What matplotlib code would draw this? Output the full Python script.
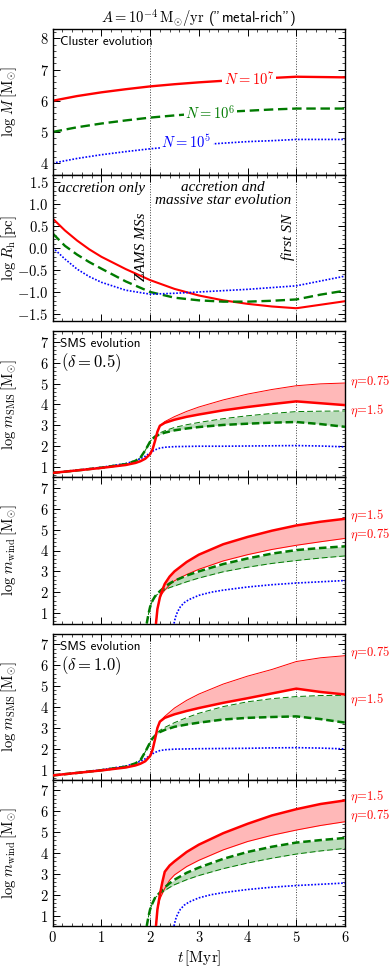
import numpy as np
import matplotlib
matplotlib.use('Agg')
import matplotlib.pyplot as plt
from matplotlib.ticker import MultipleLocator, AutoMinorLocator, FuncFormatter

plt.rcParams['mathtext.fontset'] = 'cm'
plt.rcParams['font.family'] = 'serif'
plt.rcParams['font.serif'] = ['cmr10', 'DejaVu Serif']
plt.rcParams['axes.formatter.use_mathtext'] = True

RED = '#ff0000'
GREEN = '#007a00'
BLUE = '#0000ff'
RED_FILL = '#ffb8b8'
GREEN_FILL = '#bcdcbc'

# ---- cluster mass (log M) ----
t_cl = [0, 0.5, 1.0, 1.5, 2.0, 2.5, 3.0, 3.5, 4.0, 4.5, 5.0, 5.5, 6.0]
logM_1e7 = [6.00, 6.15, 6.27, 6.37, 6.46, 6.53, 6.59, 6.64, 6.69, 6.73, 6.77, 6.76, 6.75]
logM_1e6 = [5.00, 5.15, 5.27, 5.37, 5.46, 5.53, 5.59, 5.64, 5.68, 5.72, 5.75, 5.75, 5.75]
logM_1e5 = [4.00, 4.15, 4.27, 4.37, 4.46, 4.53, 4.59, 4.64, 4.69, 4.72, 4.76, 4.76, 4.76]

# ---- half-mass radius (log Rh) ----
t_rh = [0, 0.25, 0.5, 0.75, 1.0, 1.5, 2.0, 2.5, 3.0, 3.5, 4.0, 4.5, 5.0, 5.5, 6.0]
logRh_1e7 = [0.67, 0.40, 0.17, -0.03, -0.20, -0.48, -0.73, -0.93, -1.08, -1.19, -1.27, -1.33, -1.37, -1.29, -1.21]
logRh_1e6 = [0.33, 0.05, -0.15, -0.32, -0.47, -0.76, -1.00, -1.13, -1.19, -1.22, -1.22, -1.20, -1.17, -1.06, -0.97]
logRh_1e5 = [0.01, -0.25, -0.48, -0.65, -0.78, -0.96, -1.05, -1.03, -1.00, -0.97, -0.94, -0.90, -0.86, -0.75, -0.64]

# ---- SMS mass ----
t_sms = [0, 0.5, 1.0, 1.5, 1.7, 1.8, 1.9, 2.0, 2.05, 2.1, 2.15, 2.2, 2.3, 2.5, 2.75, 3.0, 3.5, 4.0, 4.5, 5.0, 5.5, 6.0]
# delta = 0.5
sms05_1e7_eta15 = [0.72, 0.84, 0.96, 1.10, 1.20, 1.28, 1.40, 1.62, 1.85, 2.25, 2.70, 2.98, 3.12, 3.27, 3.41, 3.52, 3.72, 3.88, 4.02, 4.15, 4.06, 3.97]
sms05_1e7_eta075 = [0.72, 0.84, 0.96, 1.10, 1.20, 1.28, 1.40, 1.62, 1.85, 2.25, 2.70, 2.98, 3.18, 3.42, 3.67, 3.88, 4.22, 4.50, 4.72, 4.90, 4.99, 5.03]
sms05_1e6_eta15 = [0.72, 0.84, 0.97, 1.14, 1.30, 1.45, 1.80, 2.22, 2.36, 2.45, 2.52, 2.57, 2.65, 2.76, 2.85, 2.92, 3.02, 3.08, 3.13, 3.16, 3.06, 2.93]
sms05_1e6_eta075 = [0.72, 0.84, 0.97, 1.14, 1.30, 1.45, 1.80, 2.22, 2.38, 2.50, 2.58, 2.64, 2.74, 2.90, 3.03, 3.14, 3.32, 3.46, 3.57, 3.66, 3.68, 3.69]
sms05_1e5 = [0.72, 0.85, 0.99, 1.17, 1.30, 1.40, 1.52, 1.68, 1.76, 1.82, 1.87, 1.91, 1.95, 1.98, 1.99, 2.00, 2.00, 2.01, 2.02, 2.03, 2.01, 1.97]
# delta = 1.0
sms10_1e7_eta15 = [0.72, 0.84, 0.96, 1.10, 1.20, 1.28, 1.40, 1.65, 1.95, 2.45, 3.00, 3.30, 3.48, 3.65, 3.81, 3.95, 4.20, 4.42, 4.65, 4.88, 4.72, 4.60]
sms10_1e7_eta075 = [0.72, 0.84, 0.96, 1.10, 1.20, 1.28, 1.40, 1.65, 1.95, 2.45, 3.00, 3.30, 3.55, 3.95, 4.32, 4.62, 5.10, 5.48, 5.80, 6.18, 6.36, 6.46]
sms10_1e6_eta15 = [0.72, 0.84, 0.97, 1.14, 1.30, 1.45, 1.85, 2.30, 2.50, 2.62, 2.72, 2.80, 2.90, 3.05, 3.16, 3.25, 3.40, 3.48, 3.52, 3.55, 3.42, 3.25]
sms10_1e6_eta075 = [0.72, 0.84, 0.97, 1.14, 1.30, 1.45, 1.85, 2.30, 2.50, 2.62, 2.76, 2.88, 3.02, 3.25, 3.49, 3.70, 4.02, 4.25, 4.40, 4.50, 4.55, 4.56]
sms10_1e5 = [0.72, 0.85, 0.99, 1.17, 1.30, 1.40, 1.52, 1.68, 1.76, 1.82, 1.87, 1.91, 1.95, 1.98, 1.99, 2.00, 2.01, 2.02, 2.04, 2.05, 2.03, 1.99]

# ---- wind mass ----
t_w_1e7 = [2.12, 2.15, 2.2, 2.25, 2.3, 2.4, 2.5, 2.75, 3.0, 3.5, 4.0, 4.5, 5.0, 5.5, 6.0]
t_w_1e6 = [1.93, 1.97, 2.0, 2.05, 2.1, 2.2, 2.3, 2.4, 2.5, 2.75, 3.0, 3.5, 4.0, 4.5, 5.0, 5.5, 6.0]
t_w_1e5 = [2.49, 2.52, 2.56, 2.62, 2.7, 2.8, 3.0, 3.25, 3.5, 4.0, 4.5, 5.0, 5.5, 6.0]
# delta = 0.5
w05_1e7_eta15 = [0.5, 1.2, 1.75, 2.1, 2.4, 2.75, 3.0, 3.45, 3.8, 4.3, 4.65, 4.95, 5.2, 5.38, 5.52]
w05_1e7_eta075 = [0.5, 1.2, 1.75, 1.95, 2.1, 2.35, 2.55, 2.85, 3.1, 3.5, 3.8, 4.05, 4.25, 4.42, 4.58]
w05_1e6_eta15 = [0.5, 1.0, 1.3, 1.6, 1.8, 2.05, 2.25, 2.42, 2.55, 2.8, 3.0, 3.35, 3.62, 3.85, 4.02, 4.12, 4.2]
w05_1e6_eta075 = [0.5, 1.0, 1.3, 1.6, 1.8, 2.0, 2.12, 2.22, 2.3, 2.5, 2.68, 2.98, 3.2, 3.38, 3.52, 3.64, 3.74]
w05_1e5 = [0.5, 0.8, 1.05, 1.3, 1.5, 1.65, 1.85, 2.0, 2.1, 2.25, 2.36, 2.44, 2.5, 2.56]
# delta = 1.0
w10_1e7_eta15 = [0.5, 1.3, 2.0, 2.6, 3.1, 3.4, 3.6, 4.05, 4.4, 4.95, 5.4, 5.8, 6.1, 6.35, 6.52]
w10_1e7_eta075 = [0.5, 1.3, 1.8, 2.05, 2.3, 2.7, 2.95, 3.35, 3.65, 4.15, 4.55, 4.85, 5.1, 5.32, 5.5]
w10_1e6_eta15 = [0.5, 1.0, 1.3, 1.6, 1.85, 2.1, 2.35, 2.55, 2.72, 3.05, 3.3, 3.72, 4.05, 4.3, 4.5, 4.62, 4.72]
w10_1e6_eta075 = [0.5, 1.0, 1.3, 1.6, 1.85, 2.05, 2.2, 2.35, 2.48, 2.72, 2.92, 3.25, 3.52, 3.75, 3.95, 4.1, 4.22]
w10_1e5 = [0.5, 0.8, 1.05, 1.3, 1.5, 1.65, 1.85, 2.0, 2.1, 2.25, 2.36, 2.44, 2.5, 2.56]

t_marks = [2, 5]

fig = plt.figure(figsize=(3.9, 9.76), dpi=100)
W, H = 390.0, 976.0
left_px, width_px, h_px = 52.7, 292.3, 146.0
tops = [29, 175, 331.5, 477.5, 634, 780]
axs = []
for top in tops:
    axs.append(fig.add_axes([left_px / W, 1 - (top + h_px) / H, width_px / W, h_px / H]))

int_fmt = FuncFormatter(lambda v, p: r'$%d$' % round(v))
dec_fmt = FuncFormatter(lambda v, p: r'$%.1f$' % v)

for i, ax in enumerate(axs):
    ax.set_xlim(0, 6)
    ax.xaxis.set_major_locator(MultipleLocator(1))
    ax.xaxis.set_minor_locator(AutoMinorLocator(5))
    ax.yaxis.set_minor_locator(AutoMinorLocator(5))
    ax.tick_params(which='both', direction='in', top=True, right=True, labelsize=10.5, pad=3)
    ax.tick_params(which='major', length=5, width=0.7)
    ax.tick_params(which='minor', length=2.5, width=0.5)
    for sp in ax.spines.values():
        sp.set_linewidth(1.0)
    for tm in t_marks:
        ax.axvline(tm, color='0.25', ls=':', lw=0.7, zorder=1)
    ax.xaxis.set_major_formatter(int_fmt)
    if i < 5:
        ax.tick_params(labelbottom=False)
    ax.yaxis.set_label_coords(-0.117, 0.5)

# panel 1: cluster mass
ax = axs[0]
ax.plot(t_cl, logM_1e7, color=RED, lw=1.7)
ax.plot(t_cl, logM_1e6, color=GREEN, lw=1.7, ls=(0, (4, 2)))
ax.plot(t_cl, logM_1e5, color=BLUE, lw=1.2, ls=(0, (1, 1)))
ax.set_ylim(3.62, 8.3)
ax.yaxis.set_major_locator(MultipleLocator(1))
ax.yaxis.set_major_formatter(int_fmt)
ax.set_ylabel(r'$\log\,M\,[\mathrm{M}_{\odot}]$', fontsize=10.5)
lab_box = dict(facecolor='white', edgecolor='none', pad=1.0)
ax.text(4.03, 6.72, r'$N=10^7$', color=RED, fontsize=10.5, ha='center', va='center', bbox=lab_box)
ax.text(3.23, 5.62, r'$N=10^6$', color=GREEN, fontsize=10.5, ha='center', va='center', bbox=lab_box)
ax.text(2.74, 4.67, r'$N=10^5$', color=BLUE, fontsize=10.5, ha='center', va='center', bbox=lab_box)
ax.text(0.025, 0.955, 'Cluster evolution', transform=ax.transAxes, family='cmss10', fontsize=9.5, va='top')
ax.set_title(r'$A=10^{-4}\,\mathrm{M}_{\odot}/\mathrm{yr}$ ("metal-rich")', family='cmss10', fontsize=10.5, pad=4)

# panel 2: half-mass radius
ax = axs[1]
ax.plot(t_rh, logRh_1e7, color=RED, lw=1.5)
ax.plot(t_rh, logRh_1e6, color=GREEN, lw=1.7, ls=(0, (4, 2)))
ax.plot(t_rh, logRh_1e5, color=BLUE, lw=1.2, ls=(0, (1, 1)))
ax.set_ylim(-1.66, 1.66)
ax.yaxis.set_major_locator(MultipleLocator(0.5))
ax.yaxis.set_major_formatter(dec_fmt)
ax.set_ylabel(r'$\log\,R_{\mathrm{h}}\,[\mathrm{pc}]$', fontsize=10.5)
it = dict(family='Liberation Serif', style='italic', fontsize=11, ha='center', va='center')
ax.text(1.0, 1.36, 'accretion only', **it)
ax.text(3.5, 1.37, 'accretion and', **it)
ax.text(3.5, 1.08, 'massive star evolution', **it)
ax.text(1.82, 0.02, 'ZAMS MSs', rotation=90, **it)
ax.text(4.84, 0.25, 'first SN', rotation=90, **it)


def sms_panel(ax, s7a, s7b, s6a, s6b, s5, ylab):
    # s?a: eta = 1.5 (thick), s?b: eta = 0.75 (thin)
    ax.fill_between(t_sms, s7a, s7b, color=RED_FILL, lw=0, zorder=2)
    ax.fill_between(t_sms, s6a, s6b, color=GREEN_FILL, lw=0, zorder=2)
    ax.plot(t_sms, s7b, color=RED, lw=0.7, zorder=3)
    ax.plot(t_sms, s6b, color=GREEN, lw=0.7, ls=(0, (6, 3)), zorder=3)
    ax.plot(t_sms, s5, color=BLUE, lw=1.2, ls=(0, (1, 1)), zorder=4)
    ax.plot(t_sms, s6a, color=GREEN, lw=1.8, ls=(0, (3, 1.5)), zorder=5)
    ax.plot(t_sms, s7a, color=RED, lw=1.8, zorder=6)
    ax.set_ylim(0.5, 7.5)
    ax.yaxis.set_major_locator(MultipleLocator(1))
    ax.yaxis.set_major_formatter(int_fmt)
    ax.set_ylabel(ylab, fontsize=10.5)


def wind_panel(ax, s7a, s7b, s6a, s6b, s5, ylab):
    ax.fill_between(t_w_1e7, s7a, s7b, color=RED_FILL, lw=0, zorder=2)
    ax.fill_between(t_w_1e6, s6a, s6b, color=GREEN_FILL, lw=0, zorder=2)
    ax.plot(t_w_1e7, s7b, color=RED, lw=0.7, zorder=3)
    ax.plot(t_w_1e6, s6b, color=GREEN, lw=0.7, ls=(0, (6, 3)), zorder=3)
    ax.plot(t_w_1e5, s5, color=BLUE, lw=1.2, ls=(0, (1, 1)), zorder=4)
    ax.plot(t_w_1e6, s6a, color=GREEN, lw=1.8, ls=(0, (3, 1.5)), zorder=5)
    ax.plot(t_w_1e7, s7a, color=RED, lw=1.8, zorder=6)
    ax.set_ylim(0.5, 7.5)
    ax.yaxis.set_major_locator(MultipleLocator(1))
    ax.yaxis.set_major_formatter(int_fmt)
    ax.set_ylabel(ylab, fontsize=10.5)


lab_sms = r'$\log\,m_{\mathrm{SMS}}\,[\mathrm{M}_{\odot}]$'
lab_wind = r'$\log\,m_{\mathrm{wind}}\,[\mathrm{M}_{\odot}]$'

sms_panel(axs[2], sms05_1e7_eta15, sms05_1e7_eta075, sms05_1e6_eta15, sms05_1e6_eta075, sms05_1e5, lab_sms)
wind_panel(axs[3], w05_1e7_eta15, w05_1e7_eta075, w05_1e6_eta15, w05_1e6_eta075, w05_1e5, lab_wind)
sms_panel(axs[4], sms10_1e7_eta15, sms10_1e7_eta075, sms10_1e6_eta15, sms10_1e6_eta075, sms10_1e5, lab_sms)
wind_panel(axs[5], w10_1e7_eta15, w10_1e7_eta075, w10_1e6_eta15, w10_1e6_eta075, w10_1e5, lab_wind)

for ax, d in [(axs[2], '0.5'), (axs[4], '1.0')]:
    ax.text(0.025, 0.955, 'SMS evolution', transform=ax.transAxes, family='cmss10', fontsize=9.5, va='top')
    ax.text(0.03, 0.785, r'$(\delta=%s)$' % d, transform=ax.transAxes, fontsize=12, va='center')

eta_labels = [
    (axs[2], 5.1, r'$\eta\!=\!0.75$'), (axs[2], 3.7, r'$\eta\!=\!1.5$'),
    (axs[3], 5.65, r'$\eta\!=\!1.5$'), (axs[3], 4.75, r'$\eta\!=\!0.75$'),
    (axs[4], 6.62, r'$\eta\!=\!0.75$'), (axs[4], 4.33, r'$\eta\!=\!1.5$'),
    (axs[5], 6.67, r'$\eta\!=\!1.5$'), (axs[5], 5.76, r'$\eta\!=\!0.75$'),
]
for ax, y, s in eta_labels:
    ax.text(6.1, y, s, color=RED, fontsize=9, ha='left', va='center', clip_on=False)

axs[5].set_xlabel(r'$t\,[\mathrm{Myr}]$', fontsize=11, labelpad=2)

fig.savefig('out.png', dpi=100)
